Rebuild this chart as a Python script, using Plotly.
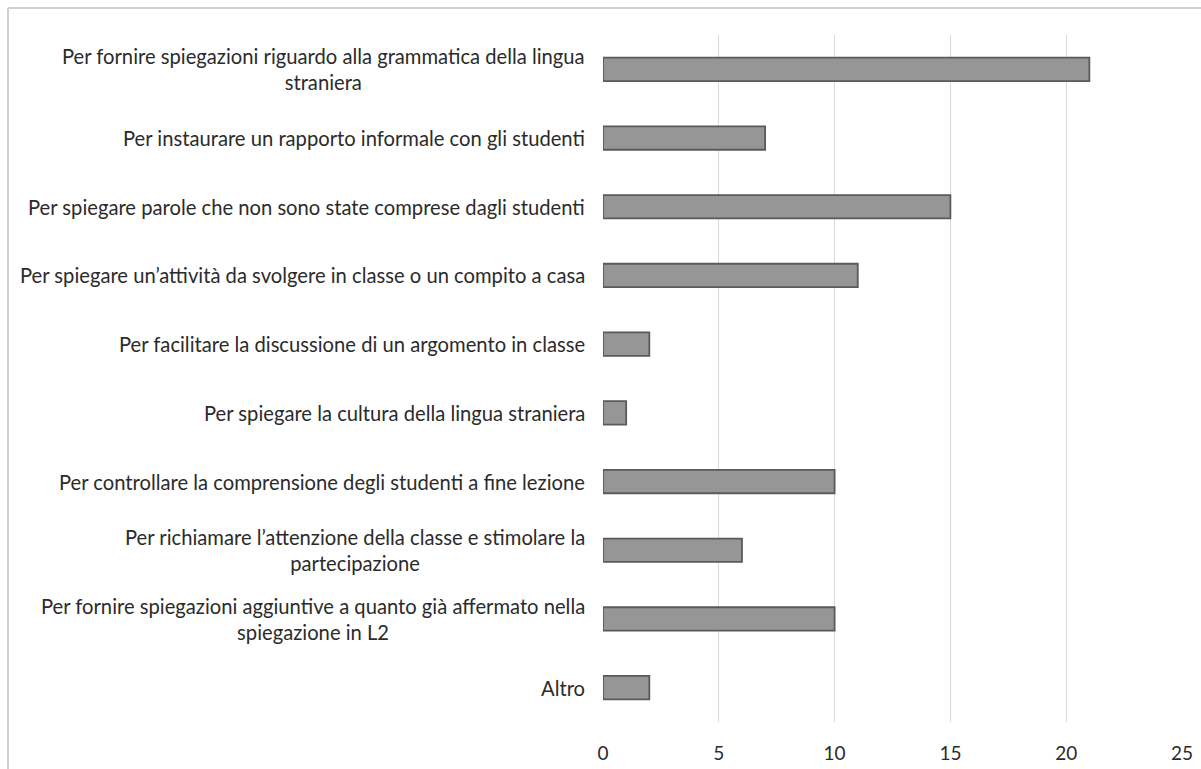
import plotly.graph_objects as go

categories = [
    "Per fornire spiegazioni riguardo alla grammatica della lingua<br>straniera",
    "Per instaurare un rapporto informale con gli studenti",
    "Per spiegare parole che non sono state comprese dagli studenti",
    "Per spiegare un’attività da svolgere in classe o un compito a casa",
    "Per facilitare la discussione di un argomento in classe",
    "Per spiegare la cultura della lingua straniera",
    "Per controllare la comprensione degli studenti a fine lezione",
    "Per richiamare l’attenzione della classe e stimolare la<br>partecipazione",
    "Per fornire spiegazioni aggiuntive a quanto già affermato nella<br>spiegazione in L2",
    "Altro",
]
values = [21, 7, 15, 11, 2, 1, 10, 6, 10, 2]
x_ticks = [0, 5, 10, 15, 20, 25]

FONT = "Lato"
TXT = "#2b2b2b"

fig = go.Figure()
fig.add_trace(go.Bar(
    x=values,
    y=list(range(len(categories))),
    orientation="h",
    marker=dict(color="#969696", line=dict(color="#5a5a5a", width=1.8)),
    width=0.34,
    hoverinfo="x",
))

W, H = 1201, 769
L, R, T, B = 603, 19, 35, 47
pw = W - L - R
ph = H - T - B

for i, c in enumerate(categories):
    fig.add_annotation(
        x=0, xref="paper", y=i, yref="y",
        text=c, showarrow=False, xanchor="right", yanchor="middle",
        align="center", xshift=-16,
        font=dict(family=FONT, size=20.2, color=TXT),
    )

# outer chart frame (top and left edges visible)
fx = (8 - L) / pw
fy = (H - B - 8) / ph
fig.add_shape(type="line", xref="paper", yref="paper",
              x0=fx, x1=(W + 5 - L) / pw, y0=fy, y1=fy,
              line=dict(color="#d0d0d0", width=2))
fig.add_shape(type="line", xref="paper", yref="paper",
              x0=fx, x1=fx, y0=fy, y1=(H - B - H - 5) / ph,
              line=dict(color="#d0d0d0", width=2))

fig.update_layout(
    width=W, height=H,
    margin=dict(l=L, r=R, t=T, b=B, pad=0, autoexpand=False),
    paper_bgcolor="white", plot_bgcolor="white",
    showlegend=False,
    xaxis=dict(
        range=[0, 25], tickvals=x_ticks, ticktext=[str(v) for v in x_ticks],
        showgrid=True, gridcolor="#d9d9d9", gridwidth=1,
        zeroline=False, showline=False, ticks="",
        tickfont=dict(family=FONT, size=19, color=TXT),
        ticklabelstandoff=18, fixedrange=True, automargin=False,
    ),
    yaxis=dict(
        range=[len(categories) - 0.5, -0.5],
        showticklabels=False, showgrid=False, zeroline=False,
        showline=False, ticks="", fixedrange=True, automargin=False,
    ),
)

fig.write_html("out.html")
